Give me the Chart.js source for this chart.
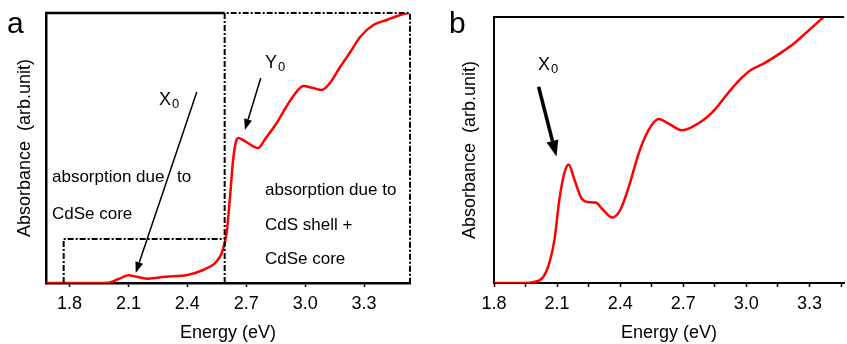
<!DOCTYPE html>
<html>
<head>
<meta charset="utf-8">
<script src="https://cdn.jsdelivr.net/npm/chart.js@4"></script>
<style>
  body { margin: 0; background: #fff; }
  .wrap { position: relative; width: 847px; height: 344px; overflow: hidden; }
  #chartA { position: absolute; left: 0; top: 0; }
  #chartB { position: absolute; left: 420px; top: 0; }
</style>
</head>
<body>
<div class="wrap">
  <canvas id="chartA" width="420" height="344"></canvas>
  <canvas id="chartB" width="427" height="344"></canvas>
</div>
<script>
// panel a: core/shell absorption spectrum
const energyA = [1.68, 1.80, 1.95, 2.00, 2.05, 2.10, 2.14, 2.20, 2.29, 2.40, 2.48, 2.54, 2.565, 2.575,
  2.60, 2.616, 2.633, 2.65, 2.66, 2.70, 2.76, 2.80, 2.855, 2.90, 2.94, 2.99, 3.04, 3.084, 3.13,
  3.178, 3.23, 3.28, 3.347, 3.416, 3.484, 3.526];
const absA = [0, 0, 0, 0.3, 4, 7.7, 6.3, 4.3, 6.3, 8, 13, 19.7, 26, 30,
  50, 83, 123, 143, 145, 141, 135, 145, 160, 175, 187, 197, 195, 193, 201,
  216, 231, 246, 258, 263, 268, 270];

// panel b: core-only spectrum
const energyB = [1.80, 1.95, 1.99, 2.033, 2.064, 2.088, 2.111, 2.135, 2.155, 2.182, 2.214, 2.245,
  2.284, 2.316, 2.363, 2.402, 2.442, 2.489, 2.536, 2.583, 2.63, 2.693, 2.787, 2.85, 2.913, 2.976,
  3.023, 3.086, 3.149, 3.228, 3.29, 3.369];
const absB = [0, 0, 1, 5.7, 20.7, 44, 84, 110.7, 119, 104, 85.7, 81.3,
  80.7, 74, 65.7, 74, 97.3, 130.7, 154, 164.7, 160, 153.3, 162.3, 174, 190.7, 205.7,
  214, 220.7, 229, 240.7, 252.3, 267.3];

const majorTicks = [1.8, 2.1, 2.4, 2.7, 3.0, 3.3];
const minorTicksB = [1.95, 2.25, 2.55, 2.85, 3.15, 3.45];

// region boundaries in panel a (eV / abs units)
const coreEdge = 1.77;
const shellEdge = 2.59;
const coreTop = 44;

const FONT = "'Liberation Sans', Arial, sans-serif";
const dashDot = [6, 2, 2, 2];

function tickLabel(v) {
  return majorTicks.some((m) => Math.abs(m - v) < 1e-6) ? v.toFixed(1) : "";
}

function arrow(ctx, x1, y1, x2, y2, w, len, half) {
  const ang = Math.atan2(y2 - y1, x2 - x1);
  const bx = x2 - len * Math.cos(ang);
  const by = y2 - len * Math.sin(ang);
  ctx.lineWidth = w;
  ctx.beginPath();
  ctx.moveTo(x1, y1);
  ctx.lineTo(bx, by);
  ctx.stroke();
  ctx.beginPath();
  ctx.moveTo(x2, y2);
  ctx.lineTo(bx + half * Math.sin(ang), by - half * Math.cos(ang));
  ctx.lineTo(bx - half * Math.sin(ang), by + half * Math.cos(ang));
  ctx.closePath();
  ctx.fill();
}

function subLabel(ctx, main, sub, x, y) {
  ctx.font = "18px " + FONT;
  ctx.fillText(main, x, y);
  const w = ctx.measureText(main).width;
  ctx.font = "13px " + FONT;
  ctx.fillText(sub, x + w + 1, y + 3);
}

function makeScales(xmin, xmax, ticks, yAfterFitWidth, ymax, borderW) {
  return {
    x: {
      type: "linear",
      min: xmin,
      max: xmax,
      afterBuildTicks: (s) => { s.ticks = ticks.map((v) => ({ value: v })); },
      afterFit: (s) => { s.height = 61; },
      ticks: {
        callback: tickLabel,
        color: "#000",
        font: { family: FONT, size: 18 },
        padding: 6,
        maxRotation: 0,
        autoSkip: false,
      },
      grid: { drawOnChartArea: false, drawTicks: true, tickLength: 4, color: "#000", tickWidth: 1.5 },
      border: { color: "#000", width: borderW },
      title: {
        display: true,
        text: "Energy (eV)",
        color: "#000",
        font: { family: FONT, size: 18 },
        padding: 0,
      },
    },
    y: {
      min: 0,
      max: ymax,
      afterFit: (s) => { s.width = yAfterFitWidth; },
      ticks: { display: false },
      grid: { display: false },
      border: { color: "#000", width: borderW },
      title: {
        display: true,
        text: "Absorbance  (arb.unit)",
        color: "#000",
        font: { family: FONT, size: 18 },
        padding: 0,
      },
    },
  };
}

const annotA = {
  id: "annotA",
  afterDraw(chart) {
    const { ctx, chartArea: a, scales: { x, y } } = chart;
    const xs = x.getPixelForValue(shellEdge);
    const xc = x.getPixelForValue(coreEdge);
    const yc = y.getPixelForValue(coreTop);
    ctx.save();
    ctx.strokeStyle = "#000";
    ctx.fillStyle = "#000";
    // solid top edge over the core part
    ctx.lineWidth = 2.5;
    ctx.beginPath();
    ctx.moveTo(a.left - 1, a.top);
    ctx.lineTo(xs, a.top);
    ctx.stroke();
    // dash-dot boxes
    ctx.setLineDash(dashDot);
    ctx.lineWidth = 2;
    ctx.beginPath();
    ctx.moveTo(xs, a.bottom);
    ctx.lineTo(xs, a.top);
    ctx.lineTo(a.right, a.top);
    ctx.lineTo(a.right, a.bottom);
    ctx.stroke();
    ctx.beginPath();
    ctx.moveTo(xc, a.bottom);
    ctx.lineTo(xc, yc);
    ctx.lineTo(xs, yc);
    ctx.stroke();
    ctx.setLineDash([]);

    // arrows
    arrow(ctx, x.getPixelForValue(2.448), y.getPixelForValue(191),
      x.getPixelForValue(2.137), y.getPixelForValue(10), 1.5, 11, 4);
    arrow(ctx, x.getPixelForValue(2.774), y.getPixelForValue(205),
      x.getPixelForValue(2.693), y.getPixelForValue(153), 1.5, 11, 4);

    ctx.textBaseline = "alphabetic";
    ctx.textAlign = "left";
    subLabel(ctx, "X", "0", 159, 105);
    subLabel(ctx, "Y", "0", 265, 68);

    ctx.font = "17px " + FONT;
    ctx.fillText("absorption due", 52, 182);
    ctx.fillText("to", 177, 182);
    ctx.fillText("CdSe core", 52, 219);
    ctx.fillText("absorption due to", 265, 195);
    ctx.fillText("CdS shell +", 265, 230);
    ctx.fillText("CdSe core", 265, 264);

    ctx.font = "30px " + FONT;
    ctx.fillText("a", 7, 33);
    ctx.restore();
  },
};

const annotB = {
  id: "annotB",
  afterDraw(chart) {
    const { ctx, chartArea: a, scales: { x, y } } = chart;
    ctx.save();
    ctx.strokeStyle = "#000";
    ctx.fillStyle = "#000";
    ctx.lineWidth = 2;
    ctx.beginPath();
    ctx.moveTo(a.left - 1, a.top);
    ctx.lineTo(a.right, a.top);
    ctx.stroke();

    arrow(ctx, x.getPixelForValue(2.012), y.getPixelForValue(197),
      x.getPixelForValue(2.097), y.getPixelForValue(127), 3.5, 16, 6);

    ctx.textBaseline = "alphabetic";
    ctx.textAlign = "left";
    subLabel(ctx, "X", "0", 118, 70);

    ctx.font = "30px " + FONT;
    ctx.fillText("b", 29, 33);
    ctx.restore();
  },
};

function lineData(xs, ys) {
  return xs.map((v, i) => ({ x: v, y: ys[i] }));
}

new Chart(document.getElementById("chartA"), {
  type: "line",
  data: {
    datasets: [
      {
        data: lineData(energyA, absA),
        borderColor: "#ff0000",
        borderWidth: 2.5,
        pointRadius: 0,
        cubicInterpolationMode: "monotone",
      },
    ],
  },
  options: {
    responsive: false,
    animation: false,
    layout: { padding: { left: 14, top: 13, right: 10, bottom: 0 } },
    scales: makeScales(1.68, 3.534, majorTicks, 32, 270, 2.5),
    plugins: { legend: { display: false }, tooltip: { enabled: false } },
  },
  plugins: [annotA],
});

new Chart(document.getElementById("chartB"), {
  type: "line",
  data: {
    datasets: [
      {
        data: lineData(energyB, absB),
        borderColor: "#ff0000",
        borderWidth: 2.5,
        pointRadius: 0,
        cubicInterpolationMode: "monotone",
      },
    ],
  },
  options: {
    responsive: false,
    animation: false,
    layout: { padding: { left: 39, top: 17, right: 0, bottom: 0 } },
    scales: makeScales(1.8, 3.465, majorTicks.concat(minorTicksB).sort((p, q) => p - q), 35, 267, 2),
    plugins: { legend: { display: false }, tooltip: { enabled: false } },
  },
  plugins: [annotB],
});
</script>
</body>
</html>
